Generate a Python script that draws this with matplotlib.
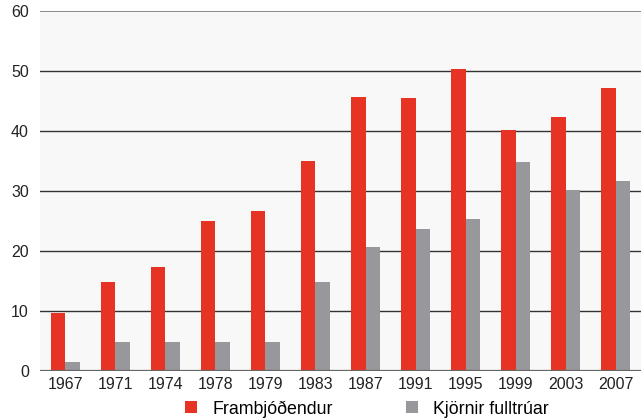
import matplotlib.pyplot as plt
import numpy as np

years = ['1967', '1971', '1974', '1978', '1979', '1983', '1987', '1991', '1995', '1999', '2003', '2007']
frambjodendur = [9.7, 14.8, 17.3, 25.0, 26.6, 35.0, 45.7, 45.5, 50.3, 40.2, 42.3, 47.2]
kjornir = [1.5, 4.9, 4.9, 4.9, 4.9, 14.8, 20.7, 23.7, 25.4, 34.8, 30.2, 31.7]

red = '#e63323'
grey = '#98979c'

plt.rcParams['font.family'] = ['Liberation Sans', 'DejaVu Sans']

fig = plt.figure(figsize=(6.41, 4.2), dpi=100)
ax = fig.add_axes([40/641, 49/420, 601/641, 360/420])
ax.set_facecolor('#f8f8f8')

x = np.arange(len(years))
w = 0.29
ax.bar(x - w/2, frambjodendur, w, color=red, label='Frambjóðendur', zorder=3)
ax.bar(x + w/2, kjornir, w, color=grey, label='Kjörnir fulltrúar', zorder=3)

ax.set_xlim(-0.5, 11.5)
ax.set_ylim(0, 60)
ax.set_yticks(range(0, 61, 10))
ax.set_xticks(x)
ax.set_xticklabels(years)
for y in range(10, 60, 10):
    ax.axhline(y, color='#333333', lw=1.0, zorder=1)
ax.axhline(60, color='#777777', lw=1.2, zorder=1)
ax.axhline(0, color='#666666', lw=1.6, zorder=4)
for s in ax.spines.values():
    s.set_visible(False)
ax.tick_params(length=0, labelsize=11.5, colors='#222222')
ax.tick_params(axis='y', pad=8)
ax.tick_params(axis='x', pad=4)

fig.legend(loc='center', bbox_to_anchor=(367/641, 1 - 409/420), ncol=2,
           frameon=False, fontsize=12.8, handlelength=0.67, handleheight=0.67,
           handletextpad=0.85, columnspacing=4.1, borderpad=0)

fig.savefig('out.png', dpi=100)
